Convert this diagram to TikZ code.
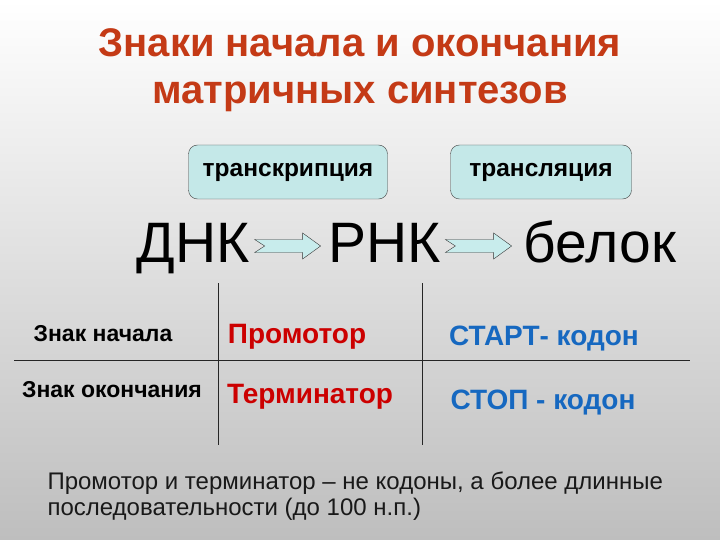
\documentclass[tikz,border=0pt]{standalone}
\usepackage{fontspec}
\setmainfont{Liberation Sans}
\usetikzlibrary{positioning}
\usetikzlibrary{calc}
\definecolor{titlered}{RGB}{196,58,22}
\definecolor{boxcyan}{RGB}{196,232,232}
\definecolor{arrowcyan}{RGB}{200,236,236}
\definecolor{genered}{RGB}{204,0,0}
\definecolor{codonblue}{RGB}{22,104,192}
\definecolor{bgbottom}{RGB}{190,190,190}
\tikzset{
	every node/.style={anchor=base,align=center},
	title/.style={font=\fontsize{40}{48}\selectfont\bfseries, text=titlered},
	process/.style={draw=black!75, rounded corners=9pt, fill=boxcyan, anchor=center,
		minimum height=54pt, font=\fontsize{24.5}{28}\selectfont\bfseries},
	molecule/.style={font=\fontsize{57}{60}\selectfont, inner sep=0pt},
	blockarr/.style={draw=black!80, fill=arrowcyan, thin, line join=miter},
	rowlab/.style={font=\fontsize{23}{27}\selectfont\bfseries},
	gene/.style={font=\fontsize{28}{32}\selectfont\bfseries, text=genered},
	codon/.style={font=\fontsize{28}{32}\selectfont\bfseries, text=codonblue},
	tableline/.style={thin, draw=black!85},
	note/.style={anchor=base west, align=left, font=\fontsize{24}{26}\selectfont, text=black!90}
}

\begin{document}
\begin{tikzpicture}[x=1pt, y=-1pt]
	% background
	\shade[top color=white, bottom color=bgbottom] (0,0) rectangle (720,540);
	\useasboundingbox (0,0) rectangle (720,540);
	
	\node[title] (t1) at (360, 57) {Знаки начала и окончания};
	\node[title] (t2) at (360, 104) {матричных синтезов};
	
	\node[process, minimum width=199pt] (transcr) at (288, 172) {транскрипция};
	\node[process, minimum width=181pt] (transl) at (541, 172) {трансляция};
	
	\node[molecule] (dnk) at (193, 262) {ДНК};
	\node[molecule] (rnk) at (385, 262) {РНК};
	\node[molecule] (prot) at (600, 262) {белок};
	
	% block arrows
	\draw[blockarr] let \p1=($(dnk.base east)+(5pt,16pt)$), \p2=($(rnk.base west)+(-8pt,16pt)$) in
		(\x1,\y1+6.5pt) -- (\x2-18pt,\y1+6.5pt) -- (\x2-18pt,\y1+13pt) -- (\x2,\y1)
		-- (\x2-18pt,\y1-13pt) -- (\x2-18pt,\y1-6.5pt) -- (\x1,\y1-6.5pt) -- (\x1+10pt,\y1) -- cycle;
	\draw[blockarr] let \p1=($(rnk.base east)+(4pt,16pt)$), \p2=($(prot.base west)+(-12pt,16pt)$) in
		(\x1,\y1+6.5pt) -- (\x2-18pt,\y1+6.5pt) -- (\x2-18pt,\y1+13pt) -- (\x2,\y1)
		-- (\x2-18pt,\y1-13pt) -- (\x2-18pt,\y1-6.5pt) -- (\x1,\y1-6.5pt) -- (\x1+10pt,\y1) -- cycle;
	
	% table
	\coordinate (v1top) at (218, 283);
	\coordinate (v1bot) at (218, 445);
	\coordinate (v2top) at (422, 283);
	\coordinate (v2bot) at (422, 445);
	\coordinate (hleft) at (14, 360);
	\coordinate (hright) at (690, 360);
	\path[tableline] (v1top) edge (v1bot);
	\path[tableline] (v2top) edge (v2bot);
	\path[tableline] (hleft) edge (hright);
	
	\node[rowlab] (startlab) at (103, 341) {Знак начала};
	\node[rowlab] (stoplab) at (112, 397) {Знак окончания};
	\node[gene] (promoter) at (297, 343) {Промотор};
	\node[gene] (terminator) at (310, 403) {Терминатор};
	\node[codon] (startcod) at (544, 345) {СТАРТ- кодон};
	\node[codon] (stopcod) at (543, 409) {СТОП - кодон};
	
	\node[note] (remark) at (44, 515) {Промотор и терминатор – не кодоны, а более длинные\\последовательности (до 100 н.п.)};
	
\end{tikzpicture}
\end{document}
